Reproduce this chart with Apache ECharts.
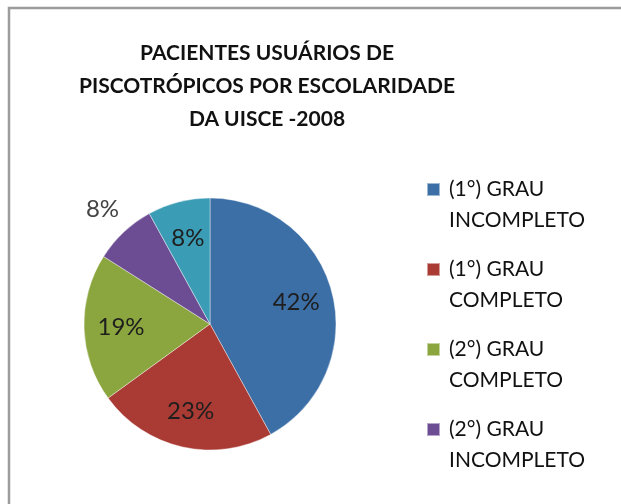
<!DOCTYPE html>
<html>
<head>
<meta charset="utf-8">
<script src="https://cdn.jsdelivr.net/npm/echarts@6/dist/echarts.min.js"></script>
<style>
html,body{margin:0;padding:0;background:#fff;}
#main{width:621px;height:504px;}
</style>
</head>
<body>
<div id="main"></div>
<script>
// dados do gráfico
var categorias = ['(1°) GRAU\nINCOMPLETO', '(1°) GRAU\nCOMPLETO', '(2°) GRAU\nCOMPLETO', '(2°) GRAU\nINCOMPLETO', 'ANALFABETO'];
var percentuais = [42, 23, 19, 8, 8];
var cores = ['#3d6fa7', '#aa3a34', '#8ba63f', '#6c4d94', '#3b9cb5'];
var legendaVisivel = categorias.slice(0, 4); // a 5ª entrada fica cortada na imagem

var fonte = 'Lato, "Open Sans", sans-serif';
var myChart = echarts.init(document.getElementById('main'));

function montarDados(mostrar, transparente) {
    var dados = [];
    for (var i = 0; i < categorias.length; i++) {
        dados.push({
            name: categorias[i],
            value: percentuais[i],
            itemStyle: {color: transparente ? 'rgba(0,0,0,0)' : cores[i]},
            label: {show: mostrar(i)}
        });
    }
    return dados;
}

var option = {
    animation: false,
    title: {
        text: 'PACIENTES USUÁRIOS DE\nPISCOTRÓPICOS POR ESCOLARIDADE\nDA UISCE -2008',
        left: 267,
        top: 37,
        padding: 0,
        textAlign: 'center',
        textStyle: {
            fontFamily: fonte,
            fontWeight: 'bold',
            fontSize: 21,
            lineHeight: 33,
            color: '#111'
        }
    },
    legend: {
        orient: 'vertical',
        left: 426,
        top: 143,
        padding: 0,
        itemWidth: 13,
        itemHeight: 13,
        itemGap: -13,
        icon: 'rect',
        data: legendaVisivel,
        selectedMode: false,
        // linha vazia no início para alinhar a 1ª linha com o quadrado
        formatter: function (nome) { return '\n' + nome; },
        textStyle: {
            fontFamily: fonte,
            fontSize: 21,
            lineHeight: 31,
            color: '#111',
            padding: [0, 0, 0, 4]
        }
    },
    graphic: [{
        type: 'polyline',
        silent: true,
        shape: {points: [[9, 700], [9, 8], [800, 8]]},
        style: {fill: 'none', stroke: '#9c9c9c', lineWidth: 2.5}
    }],
    series: [
        {
            // pizza principal
            type: 'pie',
            center: [210, 324],
            radius: [0, 126],
            startAngle: 90,
            clockwise: true,
            label: {show: false},
            labelLine: {show: false},
            itemStyle: {borderColor: 'rgba(255,255,255,0.5)', borderWidth: 0.8},
            data: montarDados(function () { return false; }, false)
        },
        {
            // rótulos internos
            type: 'pie',
            silent: true,
            legendHoverLink: false,
            center: [210, 324],
            radius: [0, 172],
            startAngle: 90,
            label: {
                position: 'inside',
                formatter: '{d}%',
                fontFamily: fonte,
                fontSize: 24,
                color: '#1e1e1e'
            },
            labelLine: {show: false},
            data: montarDados(function (i) { return i !== 3; }, true)
        },
        {
            // rótulo externo (fatia roxa)
            type: 'pie',
            silent: true,
            legendHoverLink: false,
            center: [210, 324],
            radius: [0, 308],
            startAngle: 90,
            label: {
                position: 'inside',
                formatter: '{d}%',
                fontFamily: fonte,
                fontSize: 24,
                color: '#444'
            },
            labelLine: {show: false},
            data: montarDados(function (i) { return i === 3; }, true)
        }
    ]
};
myChart.setOption(option);
</script>
</body>
</html>
